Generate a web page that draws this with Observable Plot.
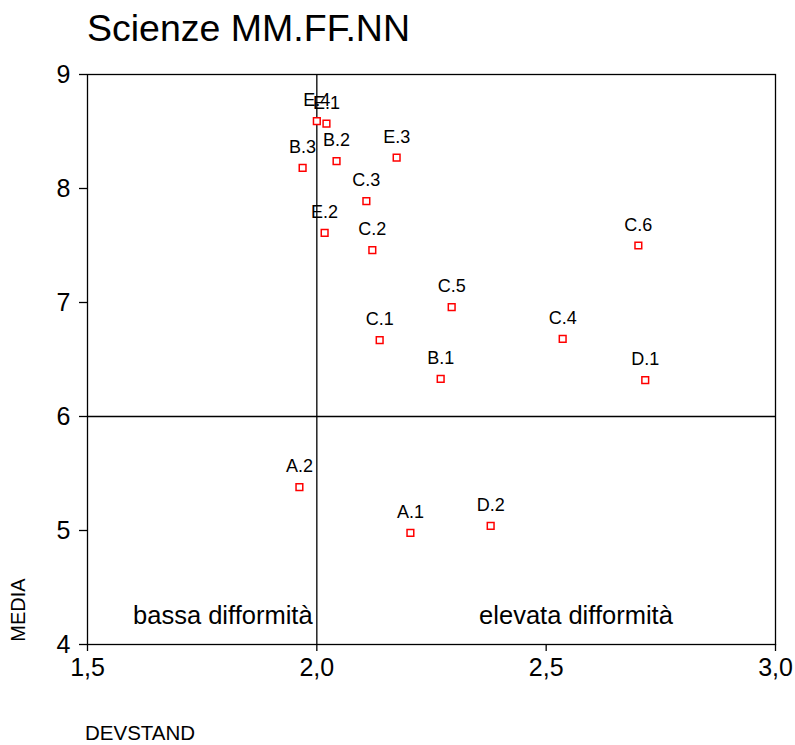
<!DOCTYPE html>
<html>
<head>
<meta charset="utf-8">
<script src="https://cdn.jsdelivr.net/npm/d3@7"></script>
<script src="https://cdn.jsdelivr.net/npm/@observablehq/plot@0.6"></script>
<style>
  body { margin: 0; background: #fff; }
  #chart { position: relative; width: 795px; height: 745px; }
</style>
</head>
<body>
<div id="chart"></div>
<script>
const labels = ["E.4","E.1","B.3","B.2","E.3","C.3","E.2","C.2","C.6","C.5","C.1","C.4","B.1","D.1","A.2","A.1","D.2"];
const devstand = [2.000,2.021,1.969,2.043,2.174,2.108,2.017,2.121,2.701,2.294,2.137,2.536,2.270,2.716,1.962,2.204,2.379];
const media = [8.59,8.57,8.18,8.24,8.27,7.89,7.61,7.46,7.50,6.96,6.67,6.68,6.33,6.32,5.38,4.98,5.04];
const xTicks = [1.5, 2.0, 2.5, 3.0];
const yTicks = [4, 5, 6, 7, 8, 9];
const quadrantText = ["bassa difformità", "elevata difformità"];
const quadrantX = [1.795, 2.565];
const quadrantY = [4.184, 4.184];

const data = labels.map((l, i) => ({label: l, x: devstand[i], y: media[i]}));
const quad = quadrantText.map((t, i) => ({t, x: quadrantX[i], y: quadrantY[i]}));

const font = "Liberation Sans, Arial, sans-serif";
const fmtX = d => d.toFixed(1).replace(".", ",");
const fmtY = d => String(d);

const chart = Plot.plot({
  width: 795,
  height: 745,
  marginLeft: 87,
  marginRight: 20,
  marginTop: 74,
  marginBottom: 101,
  style: {fontFamily: font, background: "white", color: "black"},
  x: {domain: [1.5, 3.0], ticks: xTicks, tickFormat: fmtX, label: null},
  y: {domain: [4, 9], ticks: yTicks, tickFormat: fmtY, label: null},
  marks: [
    Plot.frame({stroke: "black", strokeWidth: 1.3}),
    Plot.ruleX([2.0], {stroke: "black", strokeWidth: 1.3}),
    Plot.ruleY([6], {stroke: "black", strokeWidth: 1.3}),
    Plot.axisX({ticks: xTicks, tickFormat: fmtX, tickSize: 7, tickPadding: 7, fontSize: 25, stroke: "black", strokeWidth: 1.3, label: null}),
    Plot.axisY({ticks: yTicks, tickFormat: fmtY, tickSize: 8, tickPadding: 9, fontSize: 25, stroke: "black", strokeWidth: 1.3, label: null}),
    Plot.dot(data, {x: "x", y: "y", symbol: "square", r: 3.8, stroke: "#ff0000", fill: "white", strokeWidth: 1.5}),
    Plot.text(data, {x: "x", y: "y", text: "label", lineAnchor: "bottom", dy: -15, fontSize: 18, fill: "black"}),
    Plot.text(quad, {x: "x", y: "y", text: "t", lineAnchor: "bottom", fontSize: 25.5, fill: "black"})
  ]
});

const svg = d3.select(chart);
svg.append("text").attr("x", 87).attr("y", 41).attr("text-anchor", "start").attr("font-family", font).attr("font-size", 37.5).attr("fill", "black").text("Scienze MM.FF.NN");
svg.append("text").attr("transform", "translate(25,610) rotate(-90)").attr("text-anchor", "middle").attr("font-family", font).attr("font-size", 20).attr("fill", "black").text("MEDIA");
svg.append("text").attr("x", 85).attr("y", 740).attr("text-anchor", "start").attr("font-family", font).attr("font-size", 20.5).attr("fill", "black").text("DEVSTAND");

document.getElementById("chart").appendChild(chart);
</script>
</body>
</html>
